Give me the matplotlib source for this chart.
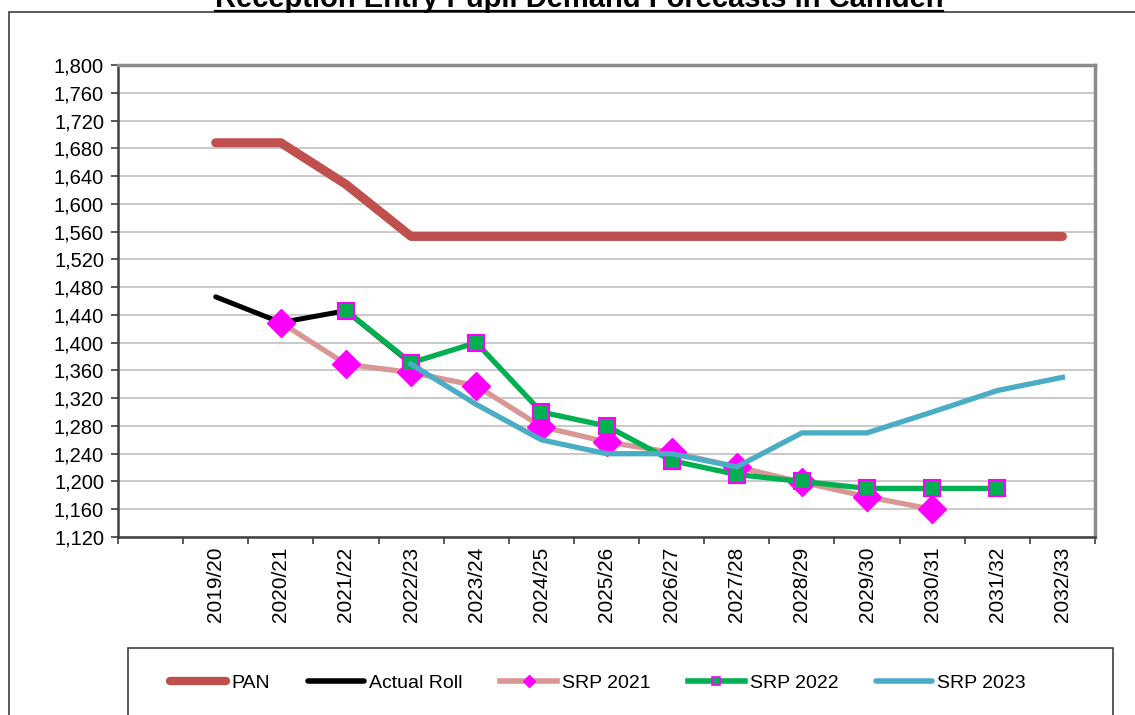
import numpy as np
import matplotlib
matplotlib.use("Agg")
import matplotlib.pyplot as plt
from matplotlib.lines import Line2D
from matplotlib.patches import Rectangle

plt.rcParams['font.family'] = ['Liberation Sans', 'DejaVu Sans']

categories = ['', '2019/20', '2020/21', '2021/22', '2022/23', '2023/24', '2024/25',
              '2025/26', '2026/27', '2027/28', '2028/29', '2029/30', '2030/31',
              '2031/32', '2032/33']
pan = [None, 1688, 1688, 1628, 1553, 1553, 1553, 1553, 1553, 1553, 1553, 1553, 1553, 1553, 1553]
actual_roll = [None, 1466, 1429, 1446, 1370, None, None, None, None, None, None, None, None, None, None]
srp2021 = [None, None, 1429, 1369, 1357, 1338, 1279, 1257, 1242, 1221, 1199, 1178, 1160, None, None]
srp2022 = [None, None, None, 1446, 1371, 1400, 1300, 1280, 1230, 1210, 1200, 1190, 1190, 1190, None]
srp2023 = [None, None, None, None, 1369, 1311, 1260, 1240, 1240, 1221, 1270, 1270, 1300, 1331, 1350]
yticks = list(range(1120, 1801, 40))
title = "Reception Entry Pupil Demand Forecasts in Camden"

W, H = 1135, 715
fig = plt.figure(figsize=(W / 100, H / 100), dpi=100)

# outer chart border
fig.patches.append(Rectangle((9 / W, -0.05), 1.2, 1 - 12 / H + 0.05, transform=fig.transFigure,
                             fill=False, edgecolor='#404040', linewidth=1.2))

ax = fig.add_axes([118 / W, 1 - 537 / H, (1095 - 118) / W, (537 - 65) / H])

x = np.arange(len(categories))
def arr(v):
    return np.array([np.nan if a is None else a for a in v], dtype=float)

ax.plot(x, arr(pan), color='#C0504D', lw=6.5, solid_capstyle='round', solid_joinstyle='round', zorder=3)
ax.plot(x, arr(actual_roll), color='black', lw=3.6, solid_capstyle='round', zorder=3)
ax.plot(x, arr(srp2021), color='#D99694', lw=3.8, marker='D', markersize=14.5,
        markerfacecolor='#FF00FF', markeredgecolor='#FF00FF', zorder=4)
ax.plot(x, arr(srp2022), color='#00B050', lw=3.8, marker='s', markersize=11.5,
        markerfacecolor='#00B050', markeredgecolor='#FF00FF', markeredgewidth=1.5, zorder=5)
ax.plot(x, arr(srp2023), color='#4BACC6', lw=3.8, solid_joinstyle='round', zorder=6)

ax.set_xlim(-0.5, len(categories) - 0.5)
ax.set_ylim(1120, 1800)
ax.set_yticks(yticks)
ax.set_yticklabels([f"{v:,}" for v in yticks], fontsize=14.5)
ax.yaxis.grid(True, color='#C0C0C0', lw=1.2)
ax.set_axisbelow(True)

ax.set_xticks(x)
ax.set_xticklabels(categories, rotation=90, fontsize=15, va='top', ha='center')
ax.set_xticks(np.arange(-0.5, len(categories)), minor=True)
ax.tick_params(axis='x', which='major', length=0, pad=7)
ax.tick_params(axis='x', which='minor', length=5, width=1.2, direction='out', color='#404040')
ax.tick_params(axis='y', length=5, width=1.2, direction='out', pad=5, color='#404040')

for s in ['left', 'bottom']:
    ax.spines[s].set_color('#404040')
    ax.spines[s].set_linewidth(1.8)
for s in ['top', 'right']:
    ax.spines[s].set_color('#8C8C8C')
    ax.spines[s].set_linewidth(2.5)

# title with underline
t = fig.text(579 / W, 1 - 7 / H, title, ha='center', va='baseline', fontsize=21, fontweight='bold')
fig.canvas.draw()
bb = t.get_window_extent().transformed(fig.transFigure.inverted())
fig.add_artist(Line2D([bb.x0, bb.x1], [1 - 10.5 / H] * 2, transform=fig.transFigure,
                      color='black', lw=1.6))

# legend box
fig.patches.append(Rectangle((128 / W, -0.05), (1113 - 128) / W, 1 - 648 / H + 0.05,
                             transform=fig.transFigure, fill=False, edgecolor='#404040', linewidth=1.2))
handles = [
    Line2D([], [], color='#C0504D', lw=6, solid_capstyle='round'),
    Line2D([], [], color='black', lw=4, solid_capstyle='round'),
    Line2D([], [], color='#D99694', lw=4, marker='D', markersize=6, markerfacecolor='#FF00FF', markeredgecolor='#FF00FF'),
    Line2D([], [], color='#00B050', lw=4, marker='s', markersize=6, markerfacecolor='#00B050', markeredgecolor='#FF00FF', markeredgewidth=1.2),
    Line2D([], [], color='#4BACC6', lw=4, solid_capstyle='round'),
]
labels = ['PAN', 'Actual Roll', 'SRP 2021', 'SRP 2022', 'SRP 2023']
fig.legend(handles, labels, loc='center left', bbox_to_anchor=(170 / W, 1 - 683 / H), ncol=5,
           frameon=False, fontsize=14, handlelength=2.9, handletextpad=0.25, columnspacing=1.95,
           borderpad=0, borderaxespad=0)

fig.savefig('out.png', dpi=100)
